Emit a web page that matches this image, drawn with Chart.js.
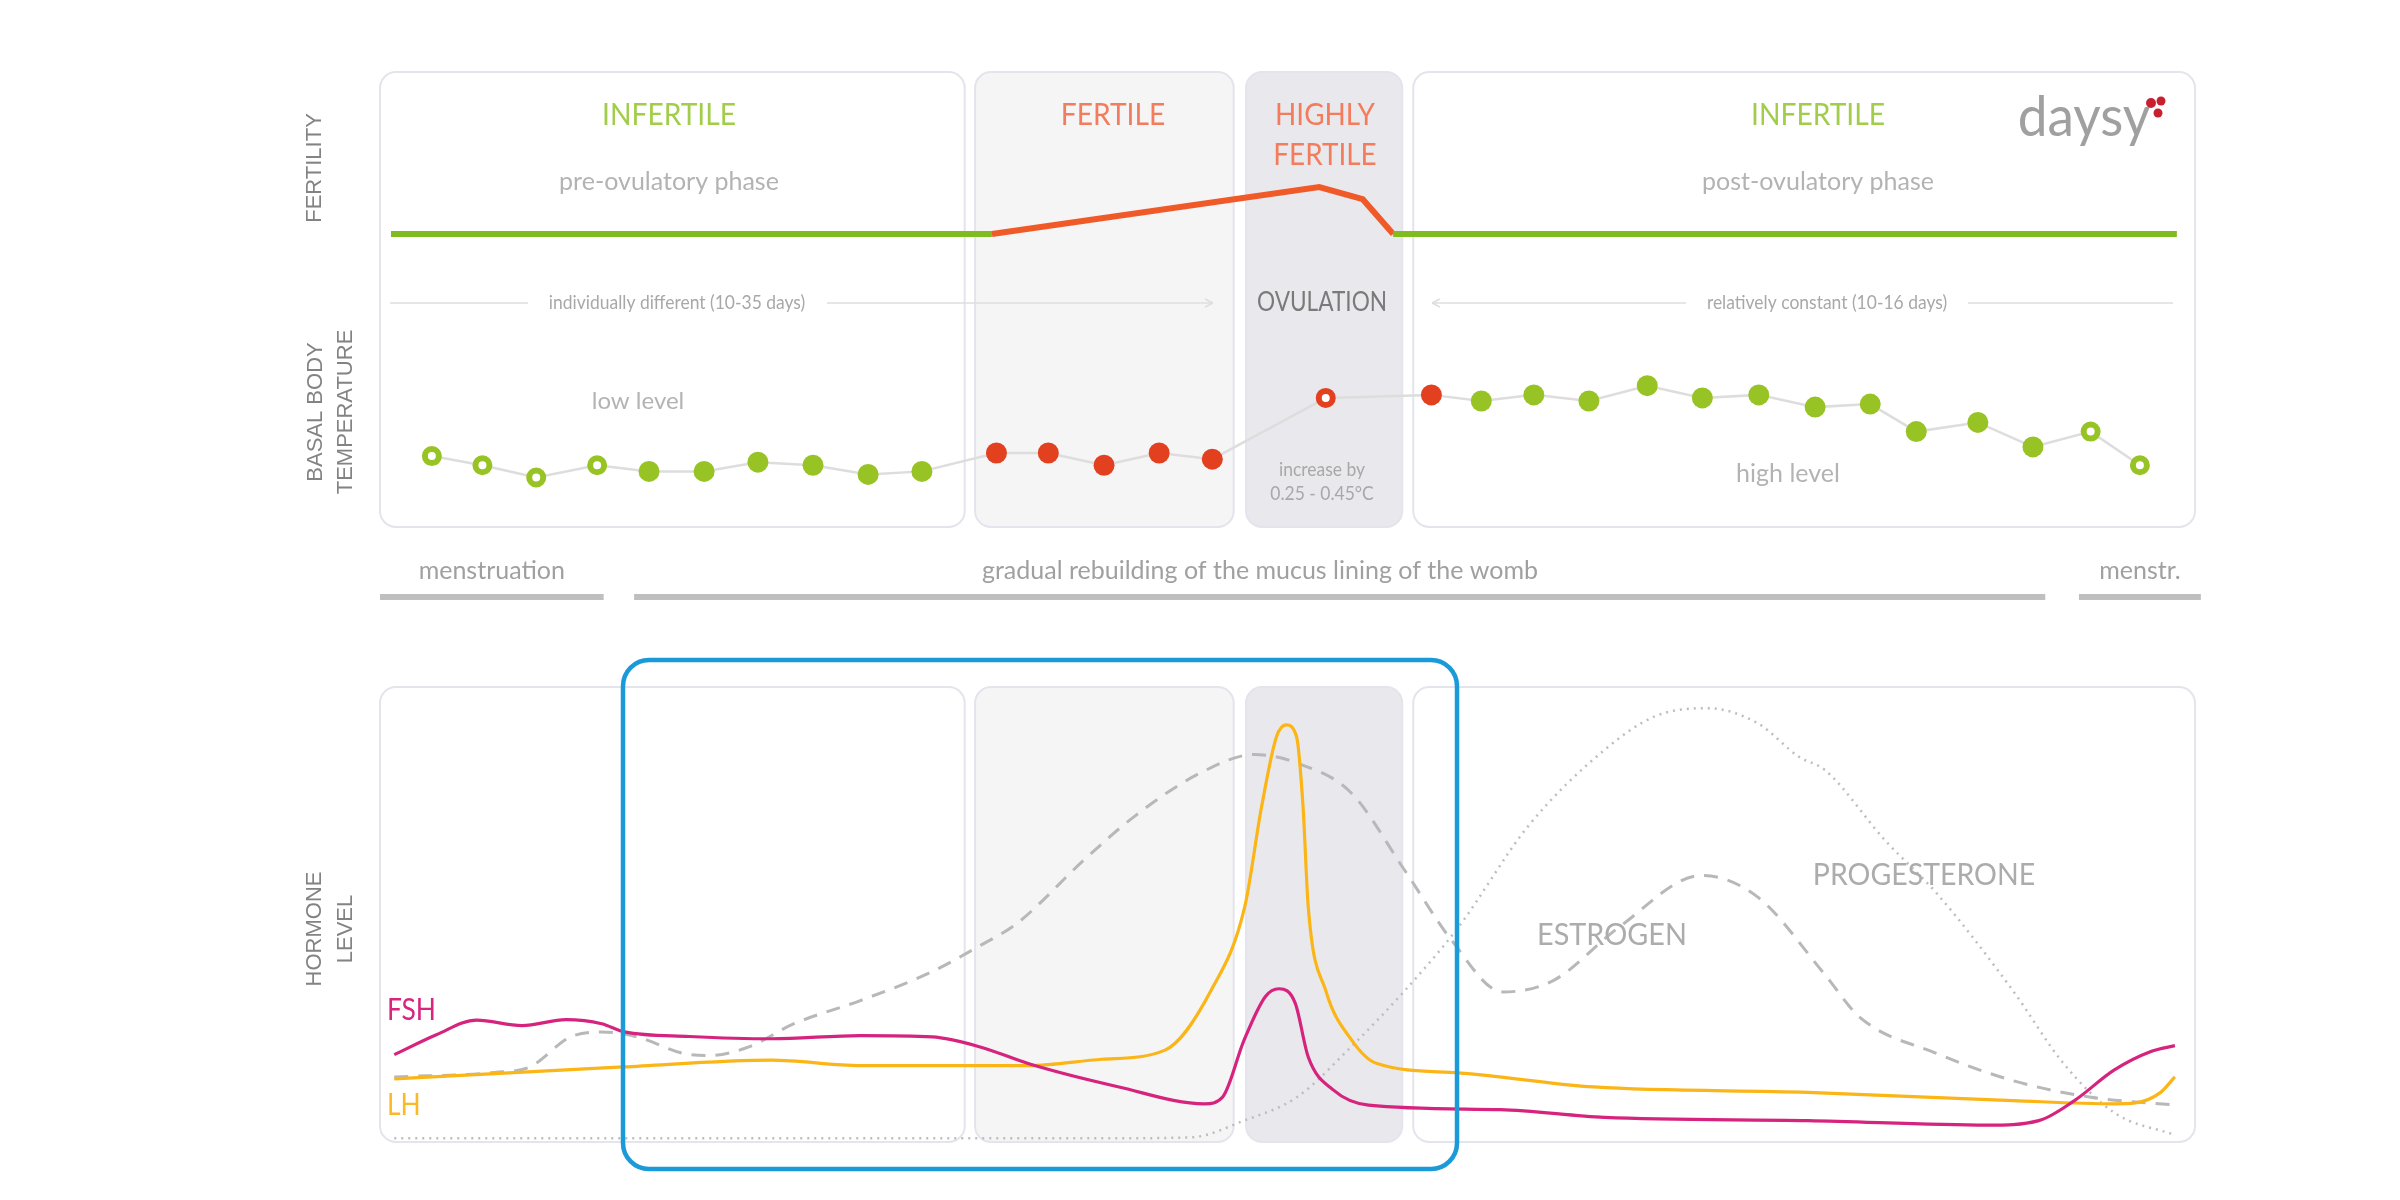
<!DOCTYPE html>
<html>
<head>
<meta charset="utf-8">
<script src="https://cdn.jsdelivr.net/npm/chart.js@4.4.1/dist/chart.umd.min.js"></script>
<style>
  html, body { margin: 0; padding: 0; background: #fff; }
  #wrap { width: 2400px; height: 1200px; position: relative; }
</style>
</head>
<body>
<div id="wrap"><canvas id="cycleChart"></canvas></div>
<script>
// x axis = cycle day (0..28)
const phaseStart = [0, 9.18, 13.36, 15.94];
const phaseEnd = [9.02, 13.17, 15.77, 28];
const phaseFill = ['#ffffff', '#f5f5f6', '#e9e9ed', '#ffffff'];

// fertility line (0 = infertile baseline, 1 = peak)
const fertDays = [0.17, 9.44, 14.49, 15.16, 15.63, 27.72];
const fertLevel = [0, 0, 1, 0.74, 0, 0];

// basal body temperature (°C)
const tempDays = [0.80, 1.58, 2.41, 3.35, 4.15, 5.00, 5.83, 6.68, 7.53, 8.36,
  9.51, 10.31, 11.17, 12.02, 12.84, 14.59, 16.22, 16.99, 17.80, 18.65,
  19.55, 20.40, 21.27, 22.14, 22.99, 23.70, 24.65, 25.50, 26.39, 27.15];
const tempValues = [36.47, 36.44, 36.40, 36.44, 36.42, 36.42, 36.45, 36.44, 36.41, 36.42,
  36.48, 36.48, 36.44, 36.48, 36.46, 36.66, 36.67, 36.65, 36.67, 36.65,
  36.70, 36.66, 36.67, 36.63, 36.64, 36.55, 36.58, 36.50, 36.55, 36.44];
const tempMarks = ['open', 'open', 'open', 'open', 'green', 'green', 'green', 'green', 'green', 'green',
  'red', 'red', 'red', 'red', 'red', 'redOpen', 'red', 'green', 'green', 'green',
  'green', 'green', 'green', 'green', 'green', 'green', 'green', 'green', 'open', 'open'];

// hormone levels (0..100, relative)
const fshDays = [0.22, 0.87, 1.49, 2.19, 2.87, 3.42, 3.77, 4.77, 6.04, 7.41,
  8.52, 9.26, 10.01, 11.40, 12.72, 13.00, 13.33, 13.66, 13.87, 14.12,
  14.32, 14.71, 15.25, 17.28, 18.89, 22.03, 24.80, 25.59, 26.14, 26.75, 27.32, 27.69];
const fshLevel = [19.2, 23.6, 26.8, 25.6, 26.9, 26.0, 24.2, 23.2, 22.7, 23.4,
  23.1, 20.9, 17.2, 12.1, 8.4, 9.9, 22.4, 32.0, 33.7, 30.5,
  18.7, 11.4, 8.1, 7.1, 5.4, 4.7, 3.7, 4.7, 9.1, 15.8, 19.9, 21.2];

const lhDays = [0.22, 3.75, 6.04, 7.41, 9.26, 10.01, 11.14, 12.11, 12.82, 13.34, 13.60,
  13.83, 13.98, 14.14, 14.24, 14.32, 14.59, 14.99, 15.37, 16.64, 18.73,
  22.03, 25.19, 26.75, 27.08, 27.46, 27.69];
const lhLevel = [13.9, 16.5, 18.0, 16.8, 16.8, 16.8, 18.2, 20.2, 33.3, 51.7, 73.7,
  89.1, 91.7, 89.1, 73.7, 51.7, 33.3, 22.4, 17.3, 15.2, 12.1,
  10.9, 9.1, 8.4, 8.6, 10.8, 14.3];

const estrogenDays = [0.22, 1.77, 2.31, 2.94, 3.42, 3.97, 4.67, 5.08, 5.69, 6.37,
  7.41, 8.45, 9.26, 9.83, 10.86, 11.63, 12.65, 13.49, 14.15, 14.98,
  15.81, 16.53, 17.32, 18.10, 19.12, 20.39, 21.25, 22.28, 22.83, 24.01,
  25.19, 26.37, 27.70];
const estrogenLevel = [14.3, 15.3, 16.5, 23.1, 24.2, 23.1, 19.5, 19.0, 20.9, 25.9,
  31.1, 37.0, 43.2, 48.1, 62.0, 71.5, 81.1, 85.2, 83.3, 76.8,
  59.7, 44.4, 33.0, 35.5, 47.3, 58.6, 53.9, 37.0, 27.4, 19.5,
  13.5, 9.9, 8.1];

const progDays = [0.22, 5.71, 10.89, 12.50, 13.33, 14.15, 14.98, 15.81, 16.64, 17.71,
  18.89, 19.67, 20.47, 21.25, 21.89, 22.29, 23.22, 24.02, 25.19, 25.97, 26.76, 27.70];
const progLevel = [0.8, 0.8, 0.8, 1.0, 4.7, 9.9, 20.9, 33.3, 47.3, 69.4,
  86.2, 93.6, 95.4, 92.1, 84.7, 81.8, 66.3, 54.6, 33.3, 17.3, 6.4, 1.5];

// womb lining timeline
const liningLabels = ['menstruation', 'gradual rebuilding of the mucus lining of the womb', 'menstr.'];
const liningSpans = [[0, 3.45], [3.92, 25.69], [26.21, 28.09]];

const GREEN = '#80bb1f';
const GREEN_TXT = '#a2cd4a';
const ORANGE = '#ef5a28';
const ORANGE_TXT = '#f27c5c';
const RED = '#e2401f';
const DOT_GREEN = '#98c325';
const GREY_TXT = '#b3b3b3';
const FONT = 'Lato, "Open Sans", sans-serif';
const TOP = 72, BOTTOM = 1142;

const pts = (xs, ys) => xs.map((x, i) => ({ x: x, y: ys[i] }));

// axis range so that value v0 sits at pixel p0 and v1 at p1
function band(v0, p0, v1, p1) {
  const k = (p1 - p0) / (v1 - v0);
  return { min: v0 + (BOTTOM - p0) / k, max: v0 + (TOP - p0) / k };
}

function label(ctx, s, x, y, o) {
  ctx.save();
  ctx.font = (o.weight || 400) + ' ' + o.size + 'px ' + (o.family || FONT);
  ctx.fillStyle = o.color;
  ctx.textAlign = o.align || 'center';
  ctx.textBaseline = 'middle';
  ctx.translate(x, y);
  if (o.rotate) ctx.rotate(o.rotate);
  ctx.scale(o.sx || 1, 1);
  ctx.fillText(s, 0, 0);
  ctx.restore();
}

function line(ctx, x0, y0, x1, y1, color, w) {
  ctx.beginPath();
  ctx.moveTo(x0, y0);
  ctx.lineTo(x1, y1);
  ctx.strokeStyle = color;
  ctx.lineWidth = w;
  ctx.stroke();
}

const infographic = {
  id: 'infographic',
  beforeDatasetsDraw(chart) {
    const ctx = chart.ctx;
    const x = chart.scales.x;
    ctx.save();
    // phase boxes, top and bottom panels
    [[72, 527], [687, 1142]].forEach(([y0, y1]) => {
      phaseStart.forEach((d, i) => {
        const a = x.getPixelForValue(d), b = x.getPixelForValue(phaseEnd[i]);
        ctx.beginPath();
        ctx.roundRect(a, y0, b - a, y1 - y0, 16);
        ctx.fillStyle = phaseFill[i];
        ctx.fill();
        ctx.lineWidth = 2;
        ctx.strokeStyle = '#e4e5ec';
        ctx.stroke();
      });
    });

    // duration arrows
    const ay = 303, ac = '#dedede';
    line(ctx, 390, ay, 528, ay, ac, 1.5);
    line(ctx, 827, ay, 1213, ay, ac, 1.5);
    line(ctx, 1205, ay - 4, 1213, ay, ac, 1.5);
    line(ctx, 1205, ay + 4, 1213, ay, ac, 1.5);
    line(ctx, 1432, ay, 1686, ay, ac, 1.5);
    line(ctx, 1440, ay - 4, 1432, ay, ac, 1.5);
    line(ctx, 1440, ay + 4, 1432, ay, ac, 1.5);
    line(ctx, 1968, ay, 2173, ay, ac, 1.5);

    // womb lining bars
    liningSpans.forEach(([a, b]) => {
      ctx.fillStyle = '#bfbfbf';
      ctx.fillRect(x.getPixelForValue(a), 594, x.getPixelForValue(b) - x.getPixelForValue(a), 6);
    });
    ctx.restore();
  },
  afterDatasetsDraw(chart) {
    const ctx = chart.ctx;
    const up = -Math.PI / 2;
    const side = { size: 22, color: '#838383', family: '"Liberation Sans", Arial', rotate: up };
    // side titles
    label(ctx, 'FERTILITY', 315, 168, side);
    label(ctx, 'BASAL BODY', 316, 412, side);
    label(ctx, 'TEMPERATURE', 346, 412, side);
    label(ctx, 'HORMONE', 315, 929, side);
    label(ctx, 'LEVEL', 346, 929, side);

    // phase headings
    label(ctx, 'INFERTILE', 669, 115, { size: 31, color: GREEN_TXT, sx: 0.91 });
    label(ctx, 'pre-ovulatory phase', 669, 182, { size: 25, color: GREY_TXT });
    label(ctx, 'FERTILE', 1113, 115, { size: 31, color: ORANGE_TXT, sx: 0.91 });
    label(ctx, 'HIGHLY', 1325, 115, { size: 31, color: ORANGE_TXT, sx: 0.9 });
    label(ctx, 'FERTILE', 1325, 155, { size: 31, color: ORANGE_TXT, sx: 0.9 });
    label(ctx, 'INFERTILE', 1818, 115, { size: 31, color: GREEN_TXT, sx: 0.91 });
    label(ctx, 'post-ovulatory phase', 1818, 182, { size: 25, color: GREY_TXT });

    label(ctx, 'individually different (10-35 days)', 677, 303, { size: 19, color: '#a8a8a8', sx: 0.92 });
    label(ctx, 'OVULATION', 1322, 303, { size: 26, color: '#7a7a7a', sx: 0.87 });
    label(ctx, 'relatively constant (10-16 days)', 1827, 303, { size: 19, color: '#a8a8a8', sx: 0.92 });

    label(ctx, 'low level', 638, 401, { size: 24, color: GREY_TXT });
    label(ctx, 'high level', 1788, 474, { size: 25, color: GREY_TXT });
    label(ctx, 'increase by', 1322, 470, { size: 19, color: '#a8a8a8', sx: 0.92 });
    label(ctx, '0.25 - 0.45°C', 1322, 494, { size: 19, color: '#a8a8a8', sx: 0.92 });

    // womb lining labels
    const x = chart.scales.x;
    label(ctx, liningLabels[0], x.getPixelForValue((liningSpans[0][0] + liningSpans[0][1]) / 2), 571, { size: 25, color: '#a0a0a0' });
    label(ctx, liningLabels[1], 1260, 571, { size: 25, color: '#a0a0a0' });
    label(ctx, liningLabels[2], 2140, 571, { size: 25, color: '#a0a0a0' });

    // hormone names
    label(ctx, 'FSH', 387, 1010, { size: 30, color: '#d8257f', align: 'left', sx: 0.88 });
    label(ctx, 'LH', 387, 1105, { size: 30, color: '#fbb927', align: 'left', sx: 0.88 });
    label(ctx, 'ESTROGEN', 1612, 935, { size: 30, color: '#acacac', sx: 0.96 });
    label(ctx, 'PROGESTERONE', 1924, 875, { size: 30, color: '#acacac', sx: 0.95 });

    // daysy logo
    label(ctx, 'daysy', 2084, 118, { size: 56, weight: 400, color: '#a0a0a0', sx: 0.95 });
    ctx.save();
    ctx.fillStyle = '#c8202f';
    [[2151, 103, 5], [2161, 101, 4.5], [2158, 113, 4.5]].forEach(([cx, cy, r]) => {
      ctx.beginPath(); ctx.arc(cx, cy, r, 0, Math.PI * 2); ctx.fill();
    });
    ctx.restore();

    // highlight frame
    ctx.save();
    ctx.beginPath();
    ctx.roundRect(623, 660, 834, 509, 26);
    ctx.lineWidth = 4.5;
    ctx.strokeStyle = '#1b9ad9';
    ctx.stroke();
    ctx.restore();
  }
};

const markFill = { open: '#ffffff', green: DOT_GREEN, red: RED, redOpen: '#ffffff' };
const markEdge = { open: DOT_GREEN, green: DOT_GREEN, red: RED, redOpen: RED };
const isOpen = m => m === 'open' || m === 'redOpen';

new Chart(document.getElementById('cycleChart'), {
  type: 'line',
  data: {
    datasets: [
      {
        label: 'FSH',
        data: pts(fshDays, fshLevel),
        yAxisID: 'yH',
        borderColor: '#d6237e',
        borderWidth: 3.2,
        pointRadius: 0,
        cubicInterpolationMode: 'monotone'
      },
      {
        label: 'LH',
        data: pts(lhDays, lhLevel),
        yAxisID: 'yH',
        borderColor: '#fbb516',
        borderWidth: 3.2,
        pointRadius: 0,
        cubicInterpolationMode: 'monotone'
      },
      {
        label: 'Estrogen',
        data: pts(estrogenDays, estrogenLevel),
        yAxisID: 'yH',
        borderColor: '#b8b8b8',
        borderWidth: 3,
        borderDash: [14, 10],
        pointRadius: 0,
        cubicInterpolationMode: 'monotone'
      },
      {
        label: 'Progesterone',
        data: pts(progDays, progLevel),
        yAxisID: 'yH',
        borderColor: '#bdbdbd',
        borderWidth: 2.5,
        borderDash: [2, 5],
        pointRadius: 0,
        cubicInterpolationMode: 'monotone'
      },
      {
        label: 'Temperature',
        data: pts(tempDays, tempValues),
        yAxisID: 'yT',
        borderColor: '#dddddd',
        borderWidth: 2.5,
        tension: 0,
        pointRadius: tempMarks.map(m => isOpen(m) ? 7 : 10.5),
        pointBorderWidth: tempMarks.map(m => isOpen(m) ? 6 : 0),
        pointBackgroundColor: tempMarks.map(m => markFill[m]),
        pointBorderColor: tempMarks.map(m => markEdge[m])
      },
      {
        label: 'Fertility',
        data: pts(fertDays, fertLevel),
        yAxisID: 'yF',
        borderWidth: 6,
        pointRadius: 0,
        tension: 0,
        segment: {
          borderColor: c => (c.p0DataIndex >= 1 && c.p0DataIndex <= 3) ? ORANGE : GREEN
        }
      }
    ]
  },
  options: {
    responsive: true,
    maintainAspectRatio: false,
    animation: false,
    layout: { padding: { left: 380, right: 205, top: TOP, bottom: 1200 - BOTTOM } },
    plugins: { legend: { display: false }, tooltip: { enabled: false } },
    scales: {
      x: { type: 'linear', min: 0, max: 28, display: false },
      yF: { type: 'linear', display: false, ...band(0, 234, 1, 187) },
      yT: { type: 'linear', display: false, ...band(36.40, 477.5, 36.70, 385.7) },
      yH: { type: 'linear', display: false, ...band(0, 1142, 100, 687.2) }
    }
  },
  plugins: [infographic]
});
</script>
</body>
</html>
